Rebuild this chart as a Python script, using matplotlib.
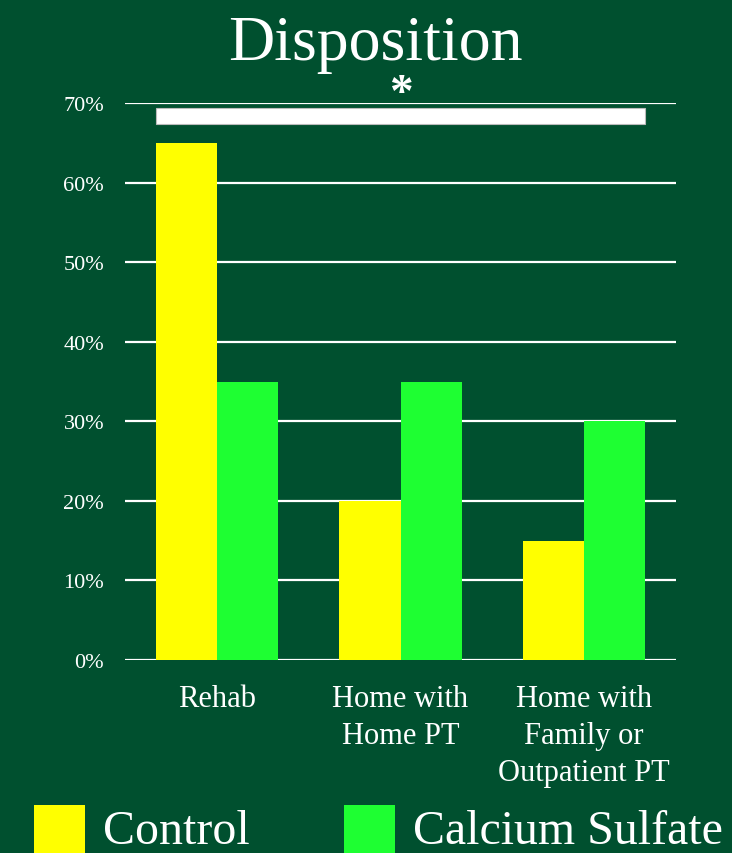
import numpy as np
import matplotlib
matplotlib.use('Agg')
import matplotlib.pyplot as plt
from matplotlib.patches import Rectangle

plt.rcParams['font.family'] = ['Liberation Serif', 'DejaVu Serif']

# disposition shares (%) per group
categories = ['Rehab', 'Home with\nHome PT', 'Home with\nFamily or\nOutpatient PT']
control = [65, 20, 15]
calcium_sulfate = [35, 35, 30]
yticks = [0, 10, 20, 30, 40, 50, 60, 70]

bg = '#00502F'
c_ctrl = '#FFFF00'
c_cas = '#1EFF32'

fig = plt.figure(figsize=(7.32, 8.54), dpi=100, facecolor=bg)
ax = fig.add_axes([125/732, 1-661/854, 551/732, 557/854])
ax.set_facecolor(bg)

x = np.arange(len(categories))
w = 1/3
ax.bar(x - w/2, control, width=w, color=c_ctrl, zorder=3)
ax.bar(x + w/2, calcium_sulfate, width=w, color=c_cas, zorder=3)

ax.set_xlim(-0.5, 2.5)
ax.set_ylim(0, 70)
ax.set_yticks(yticks)
ax.set_yticklabels([f'{t}%' for t in yticks], color='white', fontsize=16)
ax.set_xticks(x)
ax.set_xticklabels(categories, color='white', fontsize=22, linespacing=1.38, va='top')
ax.tick_params(length=0)
ax.tick_params(axis='y', pad=15)
ax.tick_params(axis='x', pad=17)
for s in ax.spines.values():
    s.set_visible(False)
ax.yaxis.grid(True, color='white', linewidth=1.6, zorder=1)
ax.set_axisbelow(True)

# significance bracket across all groups
x0 = x[0] - w
x1 = x[-1] + w
ax.add_patch(Rectangle((x0, 67.4), x1 - x0, 2.0, facecolor='white',
                       edgecolor='#BBBBBB', linewidth=0.8, zorder=4, clip_on=False))
ax.text(np.mean(x), 69.8, '*', color='white', fontsize=34, ha='center', va='baseline',
        fontweight='bold')

fig.text(0.513, 1-45/854, 'Disposition', color='white', fontsize=46, ha='center', va='center')

# legend row
for left, col, lab, tx in [(34, c_ctrl, 'Control', 103), (344, c_cas, 'Calcium Sulfate', 413)]:
    fig.patches.append(Rectangle((left/732, 0), 51/732, 48/854, transform=fig.transFigure,
                                 facecolor=col, edgecolor='none'))
    fig.text(tx/732, 1-832/854, lab, color='white', fontsize=34.5, ha='left', va='center')

fig.savefig('out.png', dpi=100, facecolor=bg)
